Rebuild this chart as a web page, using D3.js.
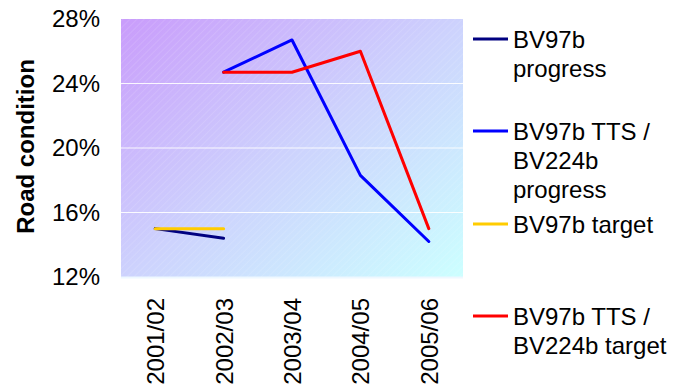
<!DOCTYPE html>
<html>
<head>
<meta charset="utf-8">
<script src="https://cdn.jsdelivr.net/npm/d3@7"></script>
<style>
html,body{margin:0;padding:0;background:#fff;}
svg{display:block;font-family:Arial,"Liberation Sans",sans-serif;}
</style>
</head>
<body>
<svg id="chart" width="683" height="385"></svg>
<script>
const categories = ["2001/02","2002/03","2003/04","2004/05","2005/06"];
const bv97bProgress = [15.0, 14.4, null, null, null];
const ttsProgress = [null, 24.7, 26.7, 18.3, 14.2];
const bv97bTarget = [15.0, 15.0, null, null, null];
const ttsTarget = [null, 24.7, 24.7, 26.0, 15.0];
const yTicks = [12, 16, 20, 24, 28];
const seriesNames = [["BV97b","progress"],["BV97b TTS /","BV224b","progress"],["BV97b target"],["BV97b TTS /","BV224b target"]];
const seriesColors = ["#000080","#0000ff","#ffcc00","#ff0000"];
const seriesData = [bv97bProgress, ttsProgress, bv97bTarget, ttsTarget];

const svg = d3.select("#chart");
const L = 121, R = 463, T = 19, B = 277;
const FS = 24;
const x = d3.scalePoint().domain(categories).range([L, R]).padding(0.5);
const y = d3.scaleLinear().domain([12, 28]).range([B, T]);

const defs = svg.append("defs");
const grad = defs.append("linearGradient").attr("id","bg")
  .attr("x1","0").attr("y1","0").attr("x2","1").attr("y2","1");
grad.append("stop").attr("offset","0").attr("stop-color","#c99cfb");
grad.append("stop").attr("offset","0.5").attr("stop-color","#cdd2fd");
grad.append("stop").attr("offset","1").attr("stop-color","#ccffff");
const pat = defs.append("pattern").attr("id","hatch").attr("patternUnits","userSpaceOnUse")
  .attr("width",5).attr("height",5).attr("patternTransform","rotate(45)");
pat.append("line").attr("x1",0).attr("y1",0).attr("x2",0).attr("y2",5)
  .attr("stroke","#ffffff").attr("stroke-opacity",0.18).attr("stroke-width",1.2);

svg.append("rect").attr("x",L).attr("y",T).attr("width",R-L).attr("height",B-T).attr("fill","url(#bg)");
svg.append("rect").attr("x",L).attr("y",T).attr("width",R-L).attr("height",B-T).attr("fill","url(#hatch)");

// gridlines
svg.append("g").selectAll("line").data(yTicks.filter(d=>d>12 && d<28)).join("line")
  .attr("x1",L).attr("x2",R).attr("y1",d=>y(d)).attr("y2",d=>y(d))
  .attr("stroke","#ffffff").attr("stroke-width",1.2).attr("stroke-opacity",0.9);
svg.append("line").attr("x1",L).attr("x2",R).attr("y1",B+0.5).attr("y2",B+0.5)
  .attr("stroke","#eef8ff").attr("stroke-width",2);

// y axis labels
const yAxis = d3.axisLeft(y).tickValues(yTicks).tickFormat(d=>d+"%").tickSize(0).tickPadding(0);
const ya = svg.append("g").attr("transform",`translate(${L-21},0)`).call(yAxis);
ya.select(".domain").remove();
ya.selectAll("text").attr("font-size",FS).attr("fill","#000").attr("font-family","Arial,'Liberation Sans',sans-serif");

// x axis labels
const xAxis = d3.axisBottom(x).tickSize(0).tickPadding(0);
const xa = svg.append("g").attr("transform",`translate(0,${B})`).call(xAxis);
xa.select(".domain").remove();
xa.selectAll("text").attr("font-size",FS).attr("fill","#000")
  .attr("font-family","Arial,'Liberation Sans',sans-serif")
  .attr("transform","rotate(-90)").attr("text-anchor","end")
  .attr("x",-21).attr("y",0).attr("dy","0.35em");

// axis title
svg.append("text").attr("transform",`translate(34,146.5) rotate(-90)`)
  .attr("text-anchor","middle").attr("font-size",24).attr("font-weight","bold")
  .text("Road condition");

// lines
const line = d3.line().defined(d=>d.v!=null).x(d=>x(d.c)).y(d=>y(d.v));
seriesData.forEach((s,i)=>{
  svg.append("path").datum(s.map((v,j)=>({c:categories[j],v})))
    .attr("d",line).attr("fill","none").attr("stroke",seriesColors[i])
    .attr("stroke-width",3).attr("stroke-linejoin","round").attr("stroke-linecap","round");
});

// legend
const legY = [39, 131, 224, 316];
const lg = svg.append("g");
seriesNames.forEach((lines,i)=>{
  lg.append("line").attr("x1",473).attr("x2",508).attr("y1",legY[i]).attr("y2",legY[i])
    .attr("stroke",seriesColors[i]).attr("stroke-width",3);
  const t = lg.append("text").attr("x",513).attr("y",legY[i]+8.5).attr("font-size",FS);
  lines.forEach((s,k)=>t.append("tspan").attr("x",513).attr("dy",k===0?0:29).text(s));
});
</script>
</body>
</html>
